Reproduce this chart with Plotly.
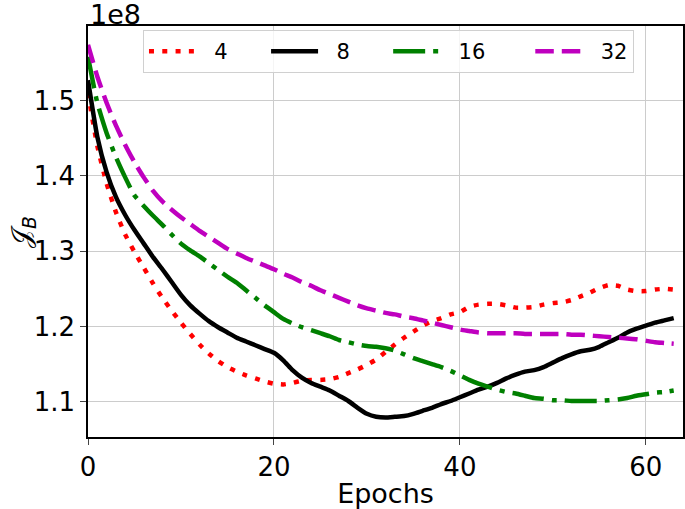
import plotly.graph_objects as go

epochs = list(range(64))

# values in units of 1e8
loss_4 = [1.510, 1.440, 1.390, 1.352, 1.322, 1.299, 1.278, 1.257, 1.238, 1.221,
          1.205, 1.190, 1.176, 1.164, 1.154, 1.146, 1.140, 1.135, 1.131, 1.127,
          1.124, 1.123, 1.125, 1.128, 1.129, 1.129, 1.130, 1.133, 1.138, 1.143,
          1.149, 1.156, 1.166, 1.176, 1.185, 1.193, 1.201, 1.207, 1.211, 1.216,
          1.219, 1.226, 1.229, 1.230, 1.230, 1.228, 1.225, 1.225, 1.226, 1.229,
          1.231, 1.232, 1.235, 1.240, 1.245, 1.251, 1.255, 1.254, 1.249, 1.247,
          1.247, 1.249, 1.250, 1.249]

loss_8 = [1.527, 1.452, 1.405, 1.372, 1.348, 1.328, 1.310, 1.292, 1.276, 1.259,
          1.242, 1.228, 1.217, 1.207, 1.199, 1.192, 1.185, 1.180, 1.175, 1.170,
          1.165, 1.155, 1.142, 1.132, 1.125, 1.120, 1.115, 1.108, 1.101, 1.092,
          1.084, 1.080, 1.079, 1.080, 1.081, 1.084, 1.088, 1.092, 1.097, 1.101,
          1.106, 1.111, 1.116, 1.120, 1.125, 1.131, 1.136, 1.140, 1.142, 1.146,
          1.152, 1.158, 1.163, 1.167, 1.169, 1.173, 1.179, 1.185, 1.192, 1.197,
          1.201, 1.205, 1.208, 1.211]

loss_16 = [1.558, 1.497, 1.457, 1.425, 1.398, 1.374, 1.360, 1.347, 1.335, 1.322,
           1.310, 1.301, 1.293, 1.284, 1.275, 1.266, 1.258, 1.248, 1.238, 1.228,
           1.219, 1.210, 1.204, 1.199, 1.195, 1.191, 1.187, 1.182, 1.179, 1.176,
           1.174, 1.173, 1.171, 1.168, 1.163, 1.158, 1.154, 1.150, 1.146, 1.141,
           1.135, 1.129, 1.124, 1.120, 1.116, 1.113, 1.111, 1.108, 1.105, 1.104,
           1.102, 1.102, 1.101, 1.101, 1.101, 1.101, 1.102, 1.103, 1.105, 1.108,
           1.110, 1.112, 1.113, 1.115]

loss_32 = [1.574, 1.532, 1.497, 1.467, 1.441, 1.418, 1.398, 1.380, 1.366, 1.355,
           1.345, 1.336, 1.327, 1.319, 1.311, 1.303, 1.297, 1.291, 1.286, 1.281,
           1.276, 1.270, 1.265, 1.259, 1.254, 1.248, 1.243, 1.238, 1.233, 1.228,
           1.224, 1.221, 1.218, 1.216, 1.213, 1.211, 1.208, 1.205, 1.202, 1.199,
           1.196, 1.194, 1.192, 1.191, 1.191, 1.191, 1.191, 1.190, 1.190, 1.190,
           1.190, 1.190, 1.189, 1.189, 1.188, 1.187, 1.186, 1.185, 1.184, 1.183,
           1.181, 1.179, 1.178, 1.177]

series_names = ["4", "8", "16", "32"]
x_ticks = [0, 20, 40, 60]
y_ticks = [1.1, 1.2, 1.3, 1.4, 1.5]
y_tick_labels = ["1.1", "1.2", "1.3", "1.4", "1.5"]

styles = [
    dict(color="#ff0000", dash="5px,8.3px"),
    dict(color="#000000", dash="solid"),
    dict(color="#008000", dash="32px,8px,5px,8px"),
    dict(color="#bf00bf", dash="18.5px,8px"),
]

NB = "\u00a0"
lead = NB * 2
trail = [NB * 5, NB * 5, NB * 6, NB * 0]

fig = go.Figure()
for i, (name, ys, st) in enumerate(zip(series_names, [loss_4, loss_8, loss_16, loss_32], styles)):
    fig.add_trace(go.Scatter(
        x=epochs, y=ys, mode="lines", name=lead + name + trail[i],
        line=dict(color=st["color"], dash=st["dash"], width=4.5, shape="spline", smoothing=0.5),
    ))

font_family = "DejaVu Sans"
fig.update_layout(
    width=685, height=509,
    margin=dict(l=88, r=2, t=26, b=72),
    paper_bgcolor="white", plot_bgcolor="white",
    font=dict(family=font_family, size=26, color="black"),
    showlegend=True,
    legend=dict(
        orientation="h", x=0.0924, y=0.99, xanchor="left", yanchor="top",
        bgcolor="rgba(255,255,255,0.8)", bordercolor="#d0d0d0", borderwidth=1,
        font=dict(size=21, family=font_family),
        itemwidth=47,
    ),
    xaxis=dict(
        range=[0, 64], tickvals=x_ticks, ticks="outside", ticklen=6, tickwidth=1.2,
        showgrid=True, gridcolor="#cccccc", gridwidth=1,
        showline=True, linecolor="black", linewidth=1.5, mirror=True,
        zeroline=False, tickfont=dict(size=26), automargin=False,
        title=dict(text="Epochs", font=dict(size=27), standoff=6),
    ),
    yaxis=dict(
        range=[1.0532, 1.599], tickvals=y_ticks, ticktext=y_tick_labels,
        ticks="outside", ticklen=6, tickwidth=1.2,
        showgrid=True, gridcolor="#cccccc", gridwidth=1,
        showline=True, linecolor="black", linewidth=1.5, mirror=True,
        zeroline=False, tickfont=dict(size=26), automargin=False,
    ),
)
fig.add_annotation(text="𝒥<sub><i>B</i></sub>", x=-0.143, y=0.5, xref="paper", yref="paper",
                   xanchor="left", yanchor="middle", textangle=-90, showarrow=False,
                   font=dict(size=27, family=font_family))
fig.add_annotation(text="1e8", x=0, y=1.0, xref="paper", yref="paper",
                   xanchor="left", yanchor="bottom", showarrow=False,
                   font=dict(size=27, family=font_family), yshift=-6)

fig.write_html("out.html", config={"displayModeBar": False},
               post_script="document.body.style.margin='0px';")
